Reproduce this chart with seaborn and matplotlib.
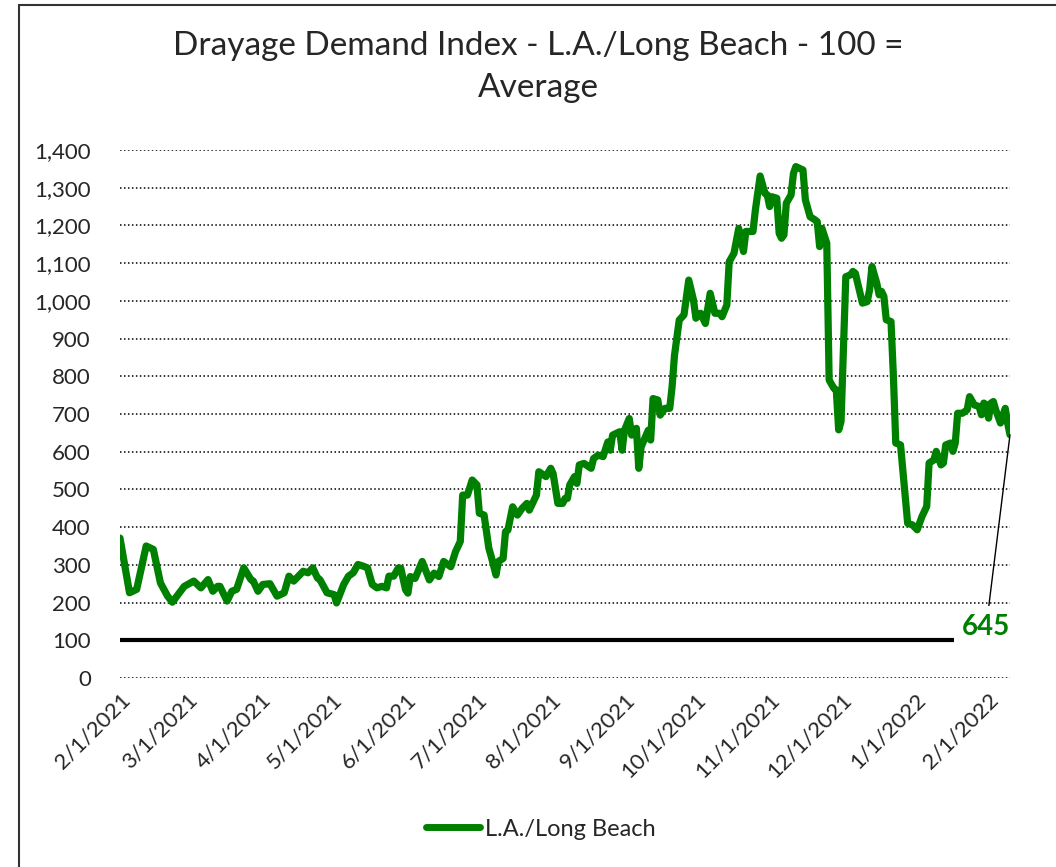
import datetime as dt
import matplotlib
matplotlib.use("Agg")
import matplotlib.pyplot as plt
import matplotlib.dates as mdates
from matplotlib.lines import Line2D
from matplotlib.ticker import FuncFormatter
import pandas as pd
import seaborn as sns

# Drayage demand index, L.A./Long Beach (100 = average)
start_date = dt.date(2021, 2, 1)
day_offsets = [
    0, 4, 7, 11, 14, 17, 20, 22, 25, 27, 31, 34, 37, 39, 41, 42, 45, 47, 49, 52,
    55, 56, 58, 60, 63, 66, 69, 71, 73, 77, 79, 81, 83, 84, 87, 90, 91, 94, 96, 98,
    100, 102, 104, 106, 108, 110, 112, 113, 115, 117, 118, 120, 121, 122, 124, 127, 130, 132, 134, 136,
    139, 141, 143, 144, 146, 148, 150, 151, 153, 155, 156, 158, 159, 161, 162, 163, 165, 167, 169, 171,
    172, 174, 175, 176, 179, 181, 182, 184, 186, 187, 188, 189, 191, 192, 193, 195, 197, 198, 199, 201,
    203, 205, 206, 207, 210, 211, 212, 214, 215, 217, 218, 219, 222, 223, 224, 226, 227, 229, 231, 232,
    233, 235, 237, 239, 241, 242, 244, 246, 248, 250, 252, 253, 255, 256, 258, 260, 262, 263, 266, 267,
    269, 271, 272, 273, 274, 276, 277, 278, 279, 280, 282, 283, 284, 287, 288, 290, 292, 293, 294, 295,
    297, 298, 300, 301, 302, 303, 305, 307, 308, 309, 311, 312, 314, 315, 316, 318, 319, 320, 321, 322,
    324, 325, 326, 328, 330, 331, 333, 335, 337, 339, 340, 342, 343, 345, 346, 347, 349, 350, 351, 352,
    354, 356, 357, 359, 361, 362, 363, 364, 365, 366, 367, 368, 370, 372, 373, 374,
]
index_values = [
    371, 226, 235, 350, 341, 252, 217, 201, 226, 243, 257, 239, 261, 230, 243, 243, 204, 230, 235, 292,
    261, 257, 230, 248, 250, 217, 226, 270, 257, 283, 279, 292, 265, 261, 226, 221, 199, 248, 270, 279,
    301, 297, 292, 248, 239, 243, 239, 270, 270, 292, 291, 234, 225, 269, 264, 309, 260, 278, 269, 309,
    295, 335, 362, 485, 485, 525, 512, 437, 432, 344, 322, 273, 309, 317, 388, 392, 454, 432, 450, 463,
    445, 472, 485, 547, 534, 556, 542, 463, 463, 476, 476, 512, 534, 516, 565, 569, 560, 556, 582, 591,
    587, 626, 604, 644, 653, 604, 657, 688, 644, 662, 556, 613, 657, 631, 741, 737, 697, 715, 715, 772,
    855, 949, 963, 1055, 1002, 954, 967, 940, 1020, 967, 967, 958, 989, 1104, 1126, 1192, 1131, 1184, 1184, 1241,
    1331, 1285, 1281, 1250, 1276, 1272, 1179, 1166, 1175, 1259, 1281, 1338, 1356, 1347, 1268, 1223, 1215, 1210, 1144, 1192,
    1153, 790, 768, 764, 658, 680, 1064, 1069, 1078, 1073, 1020, 994, 998, 1029, 1091, 1047, 1016, 1025, 1012, 950,
    945, 800, 623, 618, 481, 410, 406, 393, 428, 455, 570, 578, 601, 565, 570, 618, 623, 601, 623, 702,
    702, 711, 746, 724, 720, 698, 729, 724, 689, 729, 733, 711, 676, 715, 676, 645,
]
series_name = "L.A./Long Beach"
average_level = 100
last_label = "645"
label_date = dt.date(2022, 1, 31)
label_level = 135

dates = [pd.Timestamp(start_date + dt.timedelta(days=d)) for d in day_offsets]
df = pd.DataFrame({"date": dates, "value": index_values})

sns.set_style("white")
plt.rcParams["font.family"] = ["Lato", "DejaVu Sans"]

fig = plt.figure(figsize=(10.56, 8.67), dpi=100)
ax = fig.add_axes([120 / 1056, 1 - 678 / 867, 890 / 1056, 528 / 867])

# dotted gridlines
for v in range(0, 1401, 100):
    ax.axhline(v, color="black", lw=1.1, ls=(0, (1, 1.6)), zorder=1)

ax.axhline(average_level, color="black", lw=3, zorder=2)

sns.lineplot(data=df, x="date", y="value", color="#008000", linewidth=5.2,
             label=series_name, ax=ax, zorder=3)

ax.set_xlim(df["date"].iloc[0], df["date"].iloc[-1])
ax.set_ylim(0, 1400)
ax.set_yticks(range(0, 1401, 100))
ax.yaxis.set_major_formatter(FuncFormatter(lambda v, p: f"{int(v):,}"))
ax.xaxis.set_major_locator(mdates.MonthLocator())
ax.xaxis.set_major_formatter(FuncFormatter(
    lambda v, p: f"{mdates.num2date(v).month}/{mdates.num2date(v).day}/{mdates.num2date(v).year}"))
ax.tick_params(axis="y", length=0, pad=21, labelsize=16)
ax.tick_params(axis="x", length=0, pad=8, labelsize=16)
for lab in ax.get_xticklabels():
    lab.set_rotation(45)
    lab.set_ha("right")
    lab.set_rotation_mode("anchor")
ax.set_xlabel("")
ax.set_ylabel("")
for s in ax.spines.values():
    s.set_visible(False)
ax.get_legend().remove()

ax.annotate(last_label, xy=(df["date"].iloc[-1], index_values[-1]),
            xytext=(pd.Timestamp(label_date), label_level),
            ha="center", va="center", fontsize=20, fontweight="bold", color="#008000",
            bbox=dict(boxstyle="square,pad=0.3", fc="white", ec="none"),
            arrowprops=dict(arrowstyle="-", color="black", lw=1, shrinkA=0, shrinkB=0),
            zorder=5)

fig.text(538 / 1056, 1 - 31 / 867,
         "Drayage Demand Index - L.A./Long Beach - 100 =\nAverage",
         ha="center", va="top", fontsize=24, linespacing=1.5)

handle = Line2D([], [], color="#008000", lw=5, solid_capstyle="round")
fig.legend([handle], [series_name], loc="center", bbox_to_anchor=(541 / 1056, 1 - 829 / 867),
           frameon=False, fontsize=17, handlelength=2.3, handletextpad=0.2)

# chart border (left and top edges visible in the crop)
fig.add_artist(Line2D([19 / 1056, 19 / 1056], [0, 1 - 5 / 867], color="#333333", lw=1.5,
                      transform=fig.transFigure))
fig.add_artist(Line2D([19 / 1056, 1], [1 - 5 / 867, 1 - 5 / 867], color="#333333", lw=1.5,
                      transform=fig.transFigure))

fig.savefig("out.png", dpi=100)
